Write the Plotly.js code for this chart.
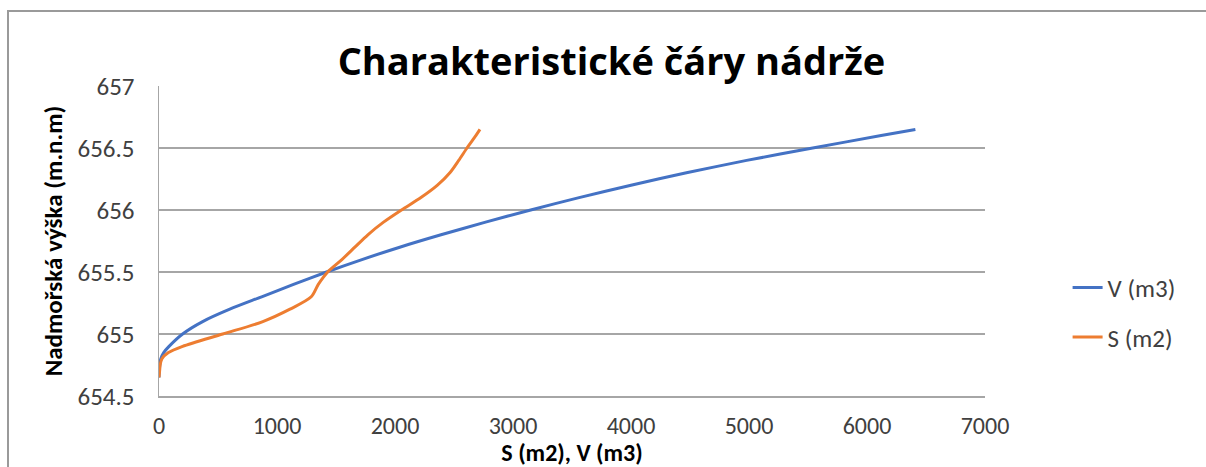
<!DOCTYPE html>
<html>
<head>
<meta charset="utf-8">
<script src="https://cdn.plot.ly/plotly-3.0.1.min.js"></script>
<style>
html,body{margin:0;padding:0;background:#fff;}
#wrap{position:relative;width:1206px;height:467px;overflow:hidden;}
#chart{position:absolute;left:0;top:0;width:1206px;height:467px;}
#frame{position:absolute;left:7px;top:10px;width:1300px;height:600px;border-top:2px solid #9a9a9a;border-left:2px solid #9a9a9a;pointer-events:none;}
</style>
</head>
<body>
<div id="wrap"><div id="chart"></div><div id="frame"></div></div>
<script>
// Elevations (m n.m.)
const elevV = [654.65, 654.7, 654.8, 654.85, 654.9, 655.0, 655.1, 655.2, 655.3, 655.4, 655.5, 655.6, 655.7, 655.8, 655.9, 656.0, 656.1, 656.2, 656.3, 656.4, 656.5, 656.6, 656.65];
const volumeV = [0, 2, 15, 40, 85, 200, 370, 600, 870, 1140, 1420, 1720, 2040, 2390, 2760, 3150, 3560, 4000, 4470, 4980, 5540, 6120, 6410];

const elevS = [654.65, 654.7, 654.75, 654.8, 654.85, 654.9, 655.0, 655.1, 655.2, 655.3, 655.4, 655.5, 655.6, 655.7, 655.8, 655.9, 656.0, 656.1, 656.2, 656.3, 656.4, 656.5, 656.6, 656.65];
const areaS = [0, 5, 10, 25, 80, 200, 540, 880, 1110, 1290, 1350, 1430, 1550, 1660, 1770, 1900, 2055, 2220, 2360, 2465, 2540, 2610, 2685, 2720];

const xTicks = [0, 1000, 2000, 3000, 4000, 5000, 6000, 7000];
const yTicks = [654.5, 655, 655.5, 656, 656.5, 657];
const seriesNames = ['V (m3)', 'S (m2)'];

const FONT = 'Carlito, "Open Sans", Arial, sans-serif';
const TITLE_FONT = '"Open Sans", Carlito, Arial, sans-serif';

const traces = [
  {x: volumeV, y: elevV, name: seriesNames[0], mode: 'lines', legendgroup: 'a',
   line: {color: '#4472C4', width: 3, shape: 'spline', smoothing: 0.8}},
  {x: areaS, y: elevS, name: seriesNames[1], mode: 'lines', legendgroup: 'b',
   line: {color: '#ED7D31', width: 3, shape: 'spline', smoothing: 0.8}}
];

const layout = {
  width: 1206, height: 467,
  margin: {l: 159, r: 221, t: 86, b: 71},
  paper_bgcolor: '#ffffff', plot_bgcolor: '#ffffff',
  font: {family: FONT, color: '#404040', size: 25},
  title: {text: 'Charakteristické čáry nádrže', x: 0.507, xref: 'container', xanchor: 'center',
          y: 0.867, yref: 'container', yanchor: 'middle',
          font: {family: TITLE_FONT, size: 38, color: '#000000', weight: 'bold'}},
  xaxis: {range: [0, 7000], tickvals: xTicks, ticktext: xTicks.map(String),
          showgrid: false, zeroline: false, showline: true, linecolor: '#a6a6a6', linewidth: 1.5,
          ticks: '', ticklabelstandoff: 8,
          tickfont: {size: 24, color: '#404040'},
          title: {text: 'S (m2), V (m3)', standoff: 5, font: {size: 24, color: '#000000', weight: 'bold'}}},
  yaxis: {range: [654.5, 657], tickvals: yTicks, ticktext: yTicks.map(v => String(v)),
          showgrid: true, gridcolor: '#a6a6a6', gridwidth: 1.5, zeroline: false,
          showline: true, linecolor: '#a6a6a6', linewidth: 1.5, ticks: '',
          ticklabelstandoff: 18,
          tickfont: {size: 25, color: '#404040'},
          title: {text: 'Nadmořská výška (m.n.m)', standoff: 8, font: {size: 25, color: '#000000', weight: 'bold'}}},
  showlegend: true,
  legend: {x: 1.1, xanchor: 'left', y: 0.27, yanchor: 'middle', traceorder: 'grouped',
           tracegroupgap: 14, bgcolor: 'rgba(0,0,0,0)', font: {size: 25, color: '#404040'}}
};

Plotly.newPlot('chart', traces, layout, {staticPlot: true, displayModeBar: false});
</script>
</body>
</html>
